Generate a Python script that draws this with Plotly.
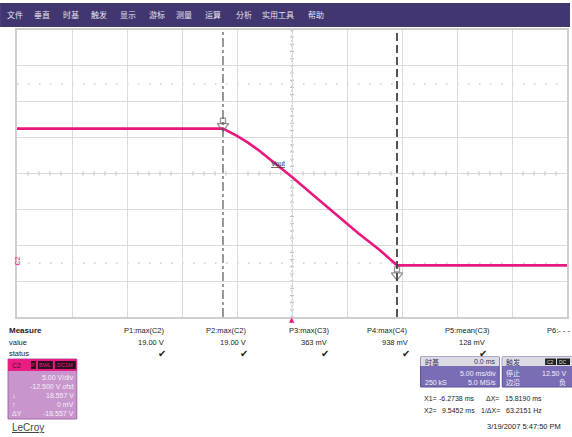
import plotly.graph_objects as go

# ---------------- data ----------------
time_ms = [-25, -6.27, -5.0, -4.0, -3.0, -2.0, -1.0, 0.0, 2.0, 4.0, 6.0, 8.0, 9.0, 9.55, 25]
vout_v = [18.75, 18.75, 17.75, 16.8, 15.7, 14.5, 13.25, 12.0, 9.4, 6.8, 4.2, 1.8, 0.5, -0.3, -0.3]

menu_items = ["文件", "垂直", "时基", "触发", "显示", "游标", "测量", "运算", "分析", "实用工具", "帮助"]
meas_names = ["P1:max(C2)", "P2:max(C2)", "P3:max(C3)", "P4:max(C4)", "P5:mean(C3)"]
meas_values = ["19.00 V", "19.00 V", "363 mV", "938 mV", "128 mV"]
cursor_x1 = -6.2738
cursor_x2 = 9.5452
c2_lines = [("", "5.00 V/div"), ("", "-12.500 V ofst"), ("↓", "18.557 V"), ("↑", "0 mV"), ("ΔY", "-18.557 V")]
timebase_lines = [("", "5.00 ms/div"), ("250 kS", "5.0 MS/s")]
trigger_lines = [("停止", "12.50 V"), ("边沿", "负")]
timestamp = "3/19/2007 5:47:50 PM"

# ---------------- layout helpers ----------------
FW, FH = 572, 437
L, T, R, B = 17, 30, 569, 317
W, H = R - L, B - T
VPX = 40 / H  # volts per pixel


def px(x):
    return (x - L) / W


def py(y):
    return (B - y) / H


SANS = "Liberation Sans, Arial, sans-serif"
CJK = "Noto Sans CJK SC, sans-serif"
PINK = "#e8187f"

fig = go.Figure()
fig.add_trace(go.Scatter(x=time_ms, y=vout_v, mode="lines",
                         line=dict(color=PINK, width=2.6), hoverinfo="skip"))

# cursor arrows (hollow down arrows) at the cursor/trace crossings
v1, v2 = vout_v[1], vout_v[-1]
fig.add_trace(go.Scatter(
    x=[cursor_x1, cursor_x1, cursor_x2, cursor_x2],
    y=[v1 + 8 * VPX, v1 + 2.5 * VPX, v2 - 4 * VPX, v2 - 10 * VPX],
    mode="markers", hoverinfo="skip",
    marker=dict(symbol=["square-open", "triangle-down-open", "square-open", "triangle-down-open"],
                size=[5, 10, 5, 10], color="#6a6a6a", line=dict(width=1.3, color="#6a6a6a")),
))

shapes = []
ann = []


def text(x, y, s, size=8, color="#222", xanchor="left", font=SANS, bold=False):
    if bold:
        s = "<b>" + s + "</b>"
    ann.append(dict(xref="paper", yref="paper", x=px(x), y=py(y), text=s, showarrow=False,
                    xanchor=xanchor, yanchor="middle", borderpad=0,
                    font=dict(size=size, color=color, family=font)))


def rect(x0, y0, x1, y1, fill, line=None, lw=0):
    shapes.append(dict(type="rect", xref="paper", yref="paper", x0=px(x0), x1=px(x1),
                       y0=py(y1), y1=py(y0), fillcolor=fill,
                       line=dict(color=line or fill, width=lw), layer="above"))


# menu bar
rect(0, 3, FW, 27, "#41366f")
menu_x = [6, 33, 62, 90, 119, 148, 176, 205, 236, 262, 308]
for name, x in zip(menu_items, menu_x):
    text(x, 15, name, size=8, color="#e4e2ee", font=CJK)

# center crosshair minor ticks
dx = 2 / W * 50
dy = 2 / H * 40
for i in range(-25, 26):
    if i % 5 != 0:
        shapes.append(dict(type="line", xref="x", yref="y", x0=i, x1=i, y0=12.5 - dy, y1=12.5 + dy,
                           line=dict(color="#b8b8b8", width=1), layer="below"))
for k in range(0, 41):
    v = -7.5 + k
    shapes.append(dict(type="line", xref="x", yref="y", x0=-dx, x1=dx, y0=v, y1=v,
                       line=dict(color="#b8b8b8", width=1), layer="below"))
shapes.append(dict(type="line", xref="x", yref="y", x0=0, x1=0, y0=-7.5, y1=32.5,
                   line=dict(color="#b0b0b0", width=1, dash="2px,3px"), layer="below"))
# dotted reference levels
for lvl in [0, 25]:
    shapes.append(dict(type="line", xref="x", yref="y", x0=-25, x1=25, y0=lvl, y1=lvl,
                       line=dict(color="#c4c4c4", width=1.2, dash="1.5px,9.5px"), layer="below"))

# cursors
shapes.append(dict(type="line", xref="x", yref="y", x0=cursor_x1, x1=cursor_x1, y0=-7.5, y1=32.5,
                   line=dict(color="#555", width=1.2, dash="dashdot"), layer="above"))
shapes.append(dict(type="line", xref="x", yref="y", x0=cursor_x2, x1=cursor_x2, y0=-7.5, y1=32.5,
                   line=dict(color="#444", width=1.8, dash="8px,4px"), layer="above"))

ann.append(dict(xref="x", yref="y", x=-1.3, y=13.9, text="<u>Vout</u>", showarrow=False,
                font=dict(size=7, color="#333", family=SANS)))

# ground marker + trigger marker
ann.append(dict(xref="paper", yref="y", x=px(12), y=0.3, text="C2", showarrow=False, textangle=-90,
                font=dict(size=7, color=PINK, family=SANS)))
text(293, 320, "▲", size=7, color=PINK, xanchor="center", font="DejaVu Sans")

# measurement table
text(8, 330, "Measure", size=8, bold=True)
text(8, 342, "value", size=7.5)
text(8, 353, "status", size=7.5)
head_right = [167, 249, 332, 410, 493]
val_right = [166, 248, 329, 410, 488]
for name, val, hr, vr in zip(meas_names, meas_values, head_right, val_right):
    text(hr, 330, name, size=7.5, xanchor="right")
    text(vr, 342, val, size=7.5, xanchor="right")
    text(vr - 3, 353, "✔", size=10, xanchor="center", font="DejaVu Sans")
text(548, 330, "P6:- - -", size=7.5)

# C2 box
rect(8, 359, 77, 419, "#c896cc", "#9c6aa8", 1)
rect(8, 359, 77, 371, "#ec1d82")
text(11, 365, "C2", size=7, color="#3a1030")
rect(31, 361, 36, 369, "#2a1020")
rect(38, 361, 53, 369, "#2a1020")
rect(55, 361, 76, 369, "#2a1020")
text(33.5, 365, "P", size=5.5, color=PINK, xanchor="center")
text(45.5, 365, "BWL", size=5.5, color=PINK, xanchor="center")
text(65.5, 365, "DC1M", size=5.5, color=PINK, xanchor="center")
for (lab, val), y in zip(c2_lines, [377, 386, 395, 404, 413]):
    if lab:
        text(11, y, lab, size=7, color="#f6eef8")
    text(75, y, val, size=7, color="#f6eef8", xanchor="right")
text(11, 427, "<u>LeCroy</u>", size=10, color="#444")

# timebase box
rect(422, 357, 501, 387, "#7a6db5", "#5e5296", 1)
rect(422, 357, 501, 366, "#dcdbe4")
text(425, 361.5, "时基", size=7, color="#3c3266", font=CJK)
text(499, 361.5, "0.0 ms", size=7, color="#3c3266", xanchor="right")
for (lab, val), y in zip(timebase_lines, [373, 382]):
    if lab:
        text(425, y, lab, size=7, color="#f2f0fa")
    text(499, y, val, size=7, color="#f2f0fa", xanchor="right")

# trigger box
rect(504, 357, 575, 387, "#7a6db5", "#5e5296", 1)
rect(504, 357, 575, 366, "#dcdbe4")
text(507, 361.5, "触发", size=7, color="#3c3266", font=CJK)
rect(547, 358.5, 558, 365, "#222")
rect(559, 358.5, 572, 365, "#222")
text(552.5, 361.5, "C2", size=5, color="#ddd", xanchor="center")
text(565, 361.5, "DC", size=5, color="#ddd", xanchor="center")
for (lab, val), y in zip(trigger_lines, [373, 382]):
    text(507, y, lab, size=7, color="#f2f0fa", font=CJK)
    text(569, y, val, size=7, color="#f2f0fa", xanchor="right", font=CJK if val == "负" else SANS)

# cursor readouts
text(424, 398, "X1=", size=7)
text(478, 398, f"{cursor_x1:.4f} ms", size=7, xanchor="right")
text(487, 398, "ΔX=", size=7)
text(545, 398, f"{cursor_x2 - cursor_x1:.4f} ms", size=7, xanchor="right")
text(424, 410, "X2=", size=7)
text(478, 410, f"{cursor_x2:.4f} ms", size=7, xanchor="right")
text(482, 410, "1/ΔX=", size=7)
text(545, 410, f"{1000 / (cursor_x2 - cursor_x1):.4f} Hz", size=7, xanchor="right")
text(564, 426, timestamp, size=7.5, xanchor="right")

fig.update_layout(
    width=FW, height=FH,
    margin=dict(l=L, r=FW - R, t=T, b=FH - B, pad=0),
    paper_bgcolor="white", plot_bgcolor="white",
    showlegend=False,
    shapes=shapes, annotations=ann,
    xaxis=dict(range=[-25, 25], tick0=-25, dtick=5, showgrid=True, gridcolor="#dadada", gridwidth=1,
               showticklabels=False, ticks="", zeroline=False, showline=True, linecolor="#cfcfcf",
               linewidth=1.5, mirror=True, fixedrange=True),
    yaxis=dict(range=[-7.5, 32.5], tick0=-7.5, dtick=5, showgrid=True, gridcolor="#dadada", gridwidth=1,
               showticklabels=False, ticks="", zeroline=False, showline=True, linecolor="#cfcfcf",
               linewidth=1.5, mirror=True, fixedrange=True),
)

fig.write_html("out.html", config={"displayModeBar": False},
               post_script="document.body.style.margin='0';")
